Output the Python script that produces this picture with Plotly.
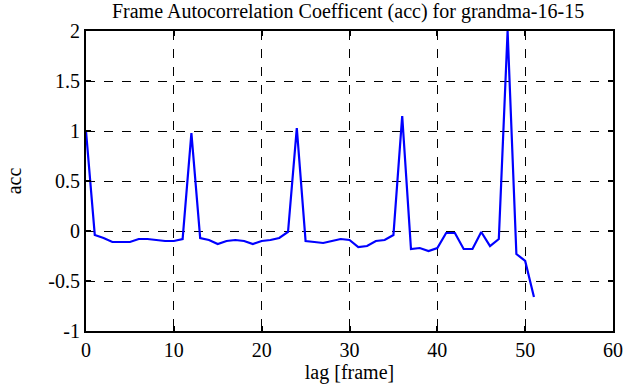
import plotly.graph_objects as go

lags = list(range(52))
acc = [1.00, -0.04, -0.07, -0.11, -0.11, -0.11, -0.08, -0.08, -0.09, -0.10,
       -0.10, -0.08, 0.98, -0.07, -0.09, -0.13, -0.10, -0.09, -0.10, -0.13,
       -0.10, -0.09, -0.07, -0.01, 1.03, -0.10, -0.11, -0.12, -0.10, -0.08,
       -0.09, -0.16, -0.15, -0.10, -0.09, -0.04, 1.15, -0.18, -0.17, -0.20,
       -0.17, -0.02, -0.02, -0.18, -0.18, -0.01, -0.15, -0.08, 2.00, -0.23,
       -0.30, -0.66]

x_ticks = [0, 10, 20, 30, 40, 50, 60]
x_ticktext = ["0", "10", "20", "30", "40", "50", "60"]
y_ticks = [-1, -0.5, 0, 0.5, 1, 1.5, 2]
y_ticktext = ["-1", "-0.5", "0", "0.5", "1", "1.5", "2"]

font = "Liberation Serif, Times New Roman, serif"
fsize = 20

fig = go.Figure()
fig.add_trace(go.Scatter(x=lags, y=acc, mode="lines",
                         line=dict(color="#0000ff", width=2.2), showlegend=False))

axis_common = dict(showline=True, linecolor="black", linewidth=2, mirror="ticks",
                   ticks="inside", ticklen=5, tickwidth=1.5, tickcolor="black",
                   showgrid=True, gridcolor="black", griddash="dash", gridwidth=1,
                   zeroline=False, automargin=False,
                   tickfont=dict(family=font, size=fsize, color="black"))

fig.update_layout(
    width=641, height=387,
    margin=dict(l=86, r=28, t=31, b=56),
    paper_bgcolor="white", plot_bgcolor="white",
    title=dict(text="Frame Autocorrelation Coefficent (acc) for grandma-16-15",
               x=0.543, xanchor="center", y=0.972, yanchor="middle",
               font=dict(family=font, size=fsize, color="black")),
    xaxis=dict(range=[0, 60], tickvals=x_ticks, ticktext=x_ticktext,
               title=dict(text="lag [frame]", font=dict(family=font, size=fsize, color="black"), standoff=4),
               **axis_common),
    yaxis=dict(range=[-1, 2], tickvals=y_ticks, ticktext=y_ticktext,
               title=dict(text="acc", font=dict(family=font, size=fsize, color="black"), standoff=21),
               **axis_common),
)

fig.write_html("out.html",
               config={"displayModeBar": False},
               post_script="document.body.style.margin='0';document.body.style.overflow='hidden';")
